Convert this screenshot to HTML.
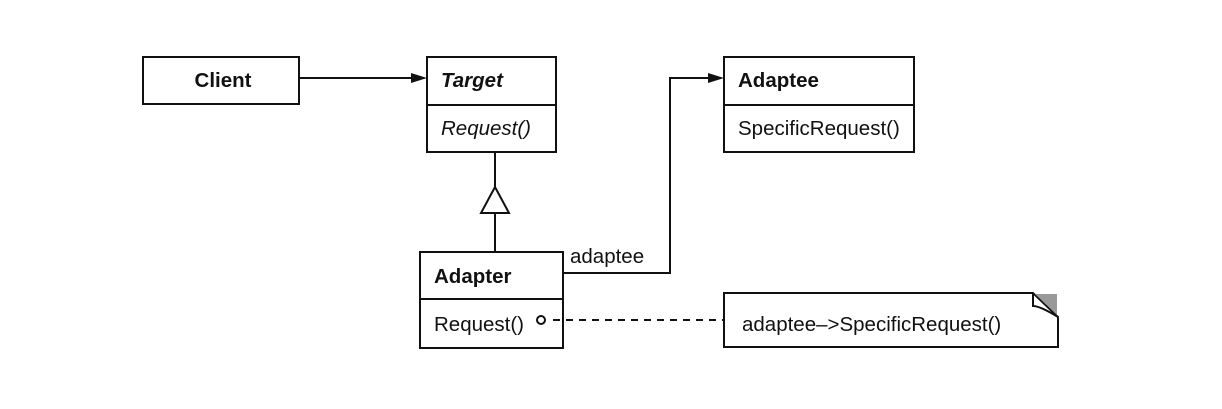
<!DOCTYPE html>
<html><head><meta charset="utf-8"><style>
body{margin:0;background:#fff;width:1222px;height:404px;overflow:hidden}
svg text{font-family:"Liberation Sans",Arial,sans-serif;font-size:20.5px;fill:#111}
</style></head><body>
<svg width="1222" height="404" viewBox="0 0 1222 404" xmlns="http://www.w3.org/2000/svg">
<g stroke="#111" stroke-width="2" fill="none">
<rect x="143" y="57" width="156" height="47"/>
<rect x="427" y="57" width="129" height="95"/>
<line x1="427" y1="105" x2="556" y2="105"/>
<rect x="420" y="252" width="143" height="96"/>
<line x1="420" y1="299" x2="563" y2="299"/>
<rect x="724" y="57" width="190" height="95"/>
<line x1="724" y1="105" x2="914" y2="105"/>
<path d="M724 293 H1033 L1058 317 V347 H724 Z"/>
<path d="M1033 293 V306 Q1040 306 1058 317"/>
<line x1="299" y1="78" x2="415" y2="78"/>
<line x1="495" y1="152" x2="495" y2="187"/>
<polygon points="495,187 481,213 509,213"/>
<line x1="495" y1="213" x2="495" y2="252"/>
<polyline points="563,273 670,273 670,78 712,78"/>
<line x1="553" y1="320" x2="724" y2="320" stroke-dasharray="7,6"/>
<circle cx="541" cy="320" r="4"/>
</g>
<polygon points="1035,294 1057,294 1057,315" fill="#999"/>
<polygon points="427,78 411,73 411,83" fill="#111"/>
<polygon points="724,78 708,73 708,83" fill="#111"/>
<text x="223" y="87" text-anchor="middle" font-weight="bold">Client</text>
<text x="441" y="87" font-weight="bold" font-style="italic">Target</text>
<text x="441" y="135" font-style="italic">Request()</text>
<text x="434" y="283" font-weight="bold">Adapter</text>
<text x="434" y="331">Request()</text>
<text x="738" y="87" font-weight="bold">Adaptee</text>
<text x="738" y="135">SpecificRequest()</text>
<text x="570" y="263">adaptee</text>
<text x="742" y="331">adaptee–&gt;SpecificRequest()</text>
</svg>
</body></html>
